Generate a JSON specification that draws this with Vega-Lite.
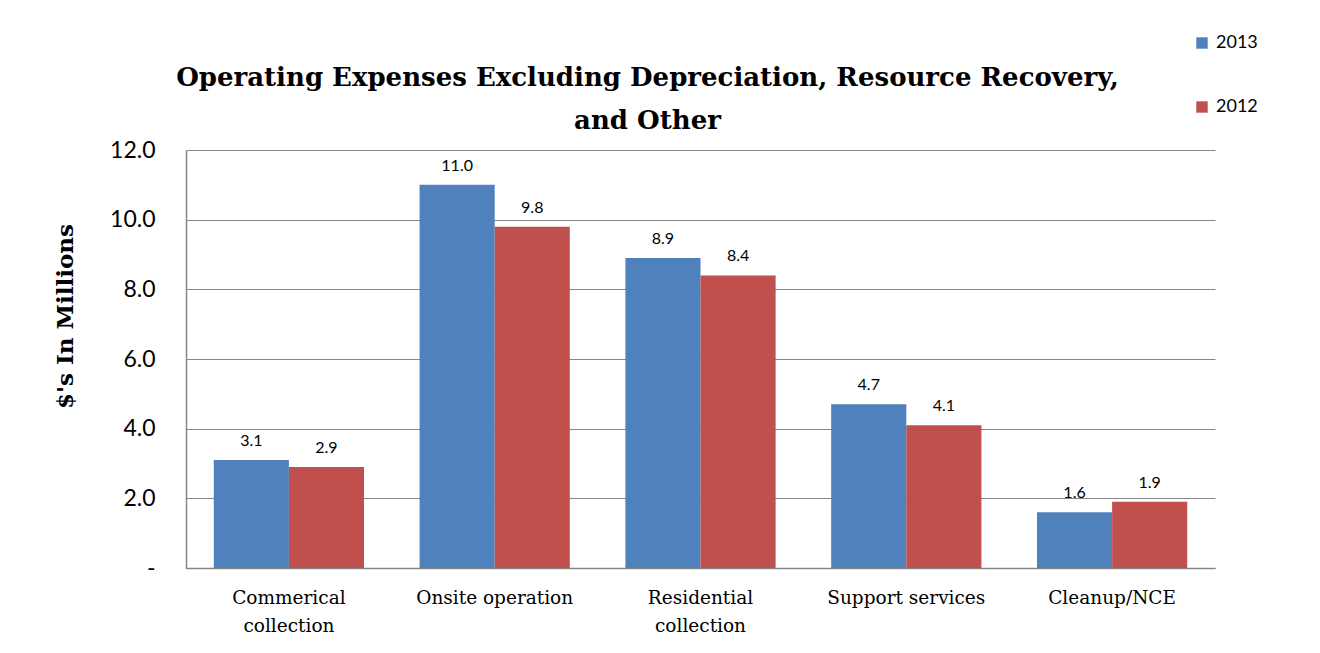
{
  "$schema": "https://vega.github.io/schema/vega-lite/v6.json",
  "autosize": {"type": "none"},
  "padding": {"left": 186, "top": 150, "right": 105, "bottom": 85},
  "width": 1029,
  "height": 418,
  "background": "white",
  "title": {
    "text": ["Operating Expenses Excluding Depreciation, Resource Recovery,", "and Other"],
    "font": "DejaVu Serif",
    "fontSize": 26,
    "fontWeight": "bold",
    "color": "#000000",
    "lineHeight": 43,
    "anchor": "middle",
    "dx": -53,
    "offset": -100
  },
  "data": {
    "values": [
      {"category": "Commerical collection", "year": "2013", "value": 3.1},
      {"category": "Commerical collection", "year": "2012", "value": 2.9},
      {"category": "Onsite operation", "year": "2013", "value": 11.0},
      {"category": "Onsite operation", "year": "2012", "value": 9.8},
      {"category": "Residential collection", "year": "2013", "value": 8.9},
      {"category": "Residential collection", "year": "2012", "value": 8.4},
      {"category": "Support services", "year": "2013", "value": 4.7},
      {"category": "Support services", "year": "2012", "value": 4.1},
      {"category": "Cleanup/NCE", "year": "2013", "value": 1.6},
      {"category": "Cleanup/NCE", "year": "2012", "value": 1.9}
    ]
  },
  "encoding": {
    "x": {
      "field": "category",
      "type": "nominal",
      "sort": null,
      "scale": {"paddingInner": 0.27, "paddingOuter": 0.135},
      "axis": {
        "title": null,
        "labelAngle": 0,
        "labelFont": "DejaVu Serif",
        "labelFontSize": 18.5,
        "labelColor": "#000000",
        "labelLineHeight": 28,
        "labelPadding": 20,
        "labelBaseline": "top",
        "ticks": false,
        "domainColor": "#868686",
        "domainWidth": 1.5,
        "labelExpr": "datum.value == 'Commerical collection' ? ['Commerical', 'collection'] : datum.value == 'Residential collection' ? ['Residential', 'collection'] : datum.value"
      }
    },
    "xOffset": {"field": "year", "type": "nominal", "sort": ["2013", "2012"], "scale": {"paddingInner": 0, "paddingOuter": 0}},
    "y": {
      "field": "value",
      "type": "quantitative",
      "scale": {"domain": [0, 12], "nice": false},
      "axis": {
        "values": [0, 2, 4, 6, 8, 10, 12],
        "labelExpr": "datum.value == 0 ? '-' : format(datum.value, '.1f')",
        "labelFont": "Lato",
        "labelFontSize": 23,
        "labelColor": "#000000",
        "labelPadding": 31,
        "ticks": false,
        "grid": true,
        "gridColor": "#868686",
        "gridWidth": 1.2,
        "domainColor": "#868686",
        "domainWidth": 1.5,
        "title": "$'s In Millions",
        "titleFont": "DejaVu Serif",
        "titleFontSize": 23,
        "titleFontWeight": "bold",
        "titleColor": "#000000",
        "titlePadding": 32,
        "titleY": 166,
        "titleAlign": "center"
      }
    }
  },
  "layer": [
    {
      "mark": {"type": "bar"},
      "encoding": {
        "color": {
          "field": "year",
          "type": "nominal",
          "scale": {"domain": ["2013", "2012"], "range": ["#4F81BD", "#C0504D"]},
          "legend": {
            "title": null,
            "orient": "none",
            "legendX": 1007,
            "legendY": -116,
            "symbolType": "square",
            "symbolSize": 130,
            "symbolStrokeWidth": 0,
            "labelFont": "Lato",
            "labelFontSize": 18,
            "labelColor": "#000000",
            "labelOffset": 5,
            "rowPadding": 46
          }
        }
      }
    },
    {
      "mark": {"type": "text", "baseline": "alphabetic", "dy": -14, "font": "Lato", "fontSize": 16, "color": "#000000"},
      "encoding": {
        "text": {"field": "value", "type": "quantitative", "format": ".1f"}
      }
    }
  ],
  "config": {
    "view": {"stroke": null}
  }
}
